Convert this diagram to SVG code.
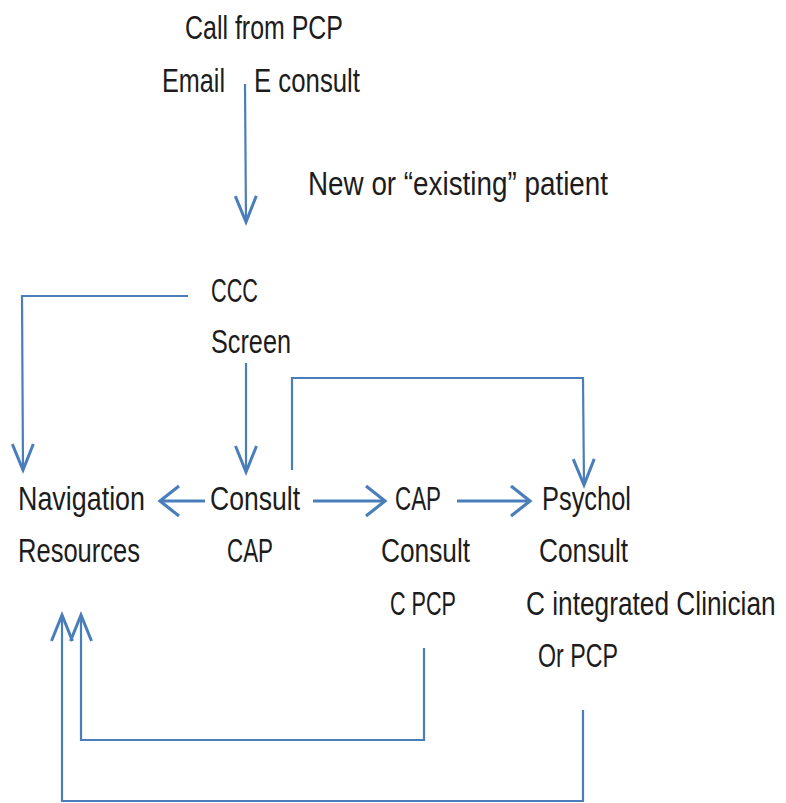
<svg xmlns="http://www.w3.org/2000/svg" width="786" height="803" viewBox="0 0 786 803">
<style>
text{font-family:"Liberation Sans","DejaVu Sans",sans-serif;font-size:34px;fill:#1c1c1c;}
.c{fill:none;stroke:#4a7ebb;stroke-width:2.2;}
.a{stroke-width:3;}
</style>
<defs>
<marker id="v" markerUnits="userSpaceOnUse" viewBox="-30 -20 40 40" markerWidth="40" markerHeight="40" refX="0" refY="0" orient="auto" overflow="visible">
<path d="M-26,-10.5 L0,0 L-26,10.5" fill="none" stroke="#4a7ebb" stroke-width="3"/>
</marker>
<marker id="h" markerUnits="userSpaceOnUse" viewBox="-30 -20 40 40" markerWidth="40" markerHeight="40" refX="0" refY="0" orient="auto" overflow="visible">
<path d="M-19,-15 L0,0 L-19,15" fill="none" stroke="#4a7ebb" stroke-width="3.2"/>
</marker>
</defs>
<g id="call"><text x="185" y="39" textLength="158" lengthAdjust="spacingAndGlyphs">Call from PCP</text></g>
<g id="email"><text x="162" y="92" textLength="63" lengthAdjust="spacingAndGlyphs">Email</text></g>
<g id="econsult"><text x="254" y="92" textLength="106" lengthAdjust="spacingAndGlyphs">E consult</text></g>
<g id="newpatient"><text x="308" y="195" textLength="300" lengthAdjust="spacingAndGlyphs">New or “existing” patient</text></g>
<g id="ccc"><text x="211" y="302" textLength="47" lengthAdjust="spacingAndGlyphs">CCC</text><text x="211" y="353" textLength="80" lengthAdjust="spacingAndGlyphs">Screen</text></g>
<g id="nav"><text x="18" y="510" textLength="127" lengthAdjust="spacingAndGlyphs">Navigation</text><text x="18" y="562" textLength="122" lengthAdjust="spacingAndGlyphs">Resources</text></g>
<g id="consultcap"><text x="210" y="510" textLength="90" lengthAdjust="spacingAndGlyphs">Consult</text><text x="227" y="562" textLength="46" lengthAdjust="spacingAndGlyphs">CAP</text></g>
<g id="capconsult"><text x="395" y="510" textLength="46" lengthAdjust="spacingAndGlyphs">CAP</text><text x="381" y="562" textLength="89" lengthAdjust="spacingAndGlyphs">Consult</text><text x="390" y="615" textLength="66" lengthAdjust="spacingAndGlyphs">C PCP</text></g>
<g id="psychol"><text x="542" y="510" textLength="89" lengthAdjust="spacingAndGlyphs">Psychol</text><text x="539" y="562" textLength="89" lengthAdjust="spacingAndGlyphs">Consult</text><text transform="translate(526,615) scale(0.78,1)" x="0" y="0" textLength="320" lengthAdjust="spacingAndGlyphs">C integrated Clinician</text><text x="538" y="667" textLength="80" lengthAdjust="spacingAndGlyphs">Or PCP</text></g>
<g id="connectors">
<path class="c" d="M245,84 L246,222" marker-end="url(#v)"/>
<path class="c" d="M188,296 L22,296 L23,470" marker-end="url(#v)"/>
<path class="c" d="M246,363 L246,472" marker-end="url(#v)"/>
<path class="c" d="M292,470 L292,378 L583,378 L584,485" marker-end="url(#v)"/>
<path class="c a" d="M205,501 L160,501" marker-end="url(#h)"/>
<path class="c a" d="M313,501 L385,501" marker-end="url(#h)"/>
<path class="c a" d="M457,501 L530,501" marker-end="url(#h)"/>
<path class="c" d="M424,648 L424,740 L81,740 L81,615" marker-end="url(#v)"/>
<path class="c" d="M583,710 L583,801 L62,801 L62,615" marker-end="url(#v)"/>
</g>
</svg>
